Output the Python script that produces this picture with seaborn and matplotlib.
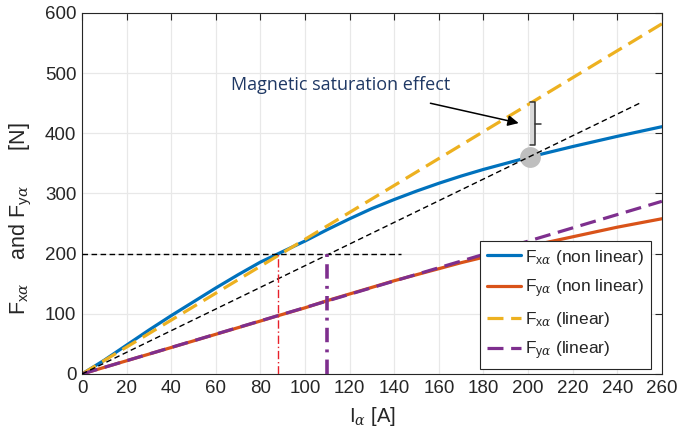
import numpy as np
import pandas as pd
import matplotlib
matplotlib.use('Agg')
import matplotlib.pyplot as plt
import seaborn as sns
from matplotlib.patches import Rectangle

# Current values [A]
I_nl = [0, 10, 20, 30, 40, 50, 60, 70, 80, 88, 100, 110, 120, 130, 140, 150, 160, 170, 180, 190,
        200, 220, 240, 260]
# non linear forces [N]
Fx_nl = [0, 23, 48, 73, 97, 120, 143, 165, 186, 200, 221, 240, 258, 275, 290, 304, 317, 329, 340, 350,
         360, 378, 395, 411]
Fy_nl = [0, 11, 22, 33, 44, 55, 66, 77, 88, 97, 110, 122, 133, 144, 155, 165, 175, 185, 194, 203,
         212, 228, 244, 258]
# linear forces [N]
I_lin = [0, 260]
Fx_lin = [0, 582]
Fy_lin = [0, 287]
# saturation reference line
I_sat = [0, 250]
F_sat = [0, 450]
F_ref = 200
I_ref_x = 88
I_ref_y = 110
I_ref_end = 143
sat_point = (200.9, 360)

blue = '#0072BD'
orange = '#D95319'
yellow = '#EDB120'
purple = '#7E2F8E'

sns.set_style('whitegrid')
plt.rcParams['font.family'] = ['Liberation Sans', 'DejaVu Sans']
plt.rcParams['mathtext.fontset'] = 'custom'
plt.rcParams['mathtext.rm'] = 'Liberation Sans'
plt.rcParams['mathtext.it'] = 'DejaVu Serif:italic'

fig = plt.figure(figsize=(6.79, 4.45), dpi=100)
ax = fig.add_axes([0.1208, 0.1596, 0.854, 0.8112])

h1 = sns.lineplot(x=I_nl, y=Fx_nl, ax=ax, color=blue, lw=2.3, label='a').lines[-1]
h2 = sns.lineplot(x=I_nl, y=Fy_nl, ax=ax, color=orange, lw=2.3, label='b').lines[-1]
h3 = sns.lineplot(x=I_lin, y=Fx_lin, ax=ax, color=yellow, lw=2.3, linestyle=(0, (5, 2.4)), label='c').lines[-1]
h4 = sns.lineplot(x=I_lin, y=Fy_lin, ax=ax, color=purple, lw=2.3, linestyle=(0, (5, 2.4)), label='d').lines[-1]

# saturation point marker
ax.plot([sat_point[0]], [sat_point[1]], 'o', ms=15, color='#bfbfbf', mec='none', zorder=4)

# reference lines
ax.plot(I_sat, F_sat, color='black', lw=1, linestyle=(0, (4, 2.5)), zorder=5)
ax.plot([0, I_ref_end], [F_ref, F_ref], color='black', lw=1, linestyle=(0, (4, 2.5)), zorder=5)
ax.plot([I_ref_x, I_ref_x], [0, F_ref], color='#e8202a', lw=1, linestyle=(0, (6, 2, 1, 2)), zorder=5)
ax.plot([I_ref_y, I_ref_y], [0, F_ref], color=purple, lw=2.6, linestyle=(0, (4, 2, 0.8, 2)), zorder=5)

# bracket + annotation
ax.add_patch(Rectangle((200.9, 381), 2.0, 71, facecolor='#d9d9d9', edgecolor='none', zorder=3))
ax.plot([201.0, 202.9, 202.9, 201.0], [452, 452, 381, 381], color='#333333', lw=1.1, zorder=6)
ax.plot([202.9, 205.6], [416, 416], color='#333333', lw=1.1, zorder=6)
ax.annotate('', xy=(197, 416), xytext=(155, 451),
            arrowprops=dict(arrowstyle='-|>', color='black', lw=1.1, mutation_scale=16))
ax.text(67, 481, 'Magnetic saturation effect', family='Open Sans', fontsize=13,
        color='#1f3864', va='center', ha='left')

ax.set_xlim(0, 260)
ax.set_ylim(0, 600)
ax.set_xticks(np.arange(0, 261, 20))
ax.set_yticks(np.arange(0, 601, 100))
ax.grid(True, color='#e8e8e8', lw=0.9)
ax.tick_params(direction='in', top=True, right=True, length=5, width=0.8,
               colors='#262626', labelsize=13.5, pad=4)
for s in ax.spines.values():
    s.set_color('#262626')
    s.set_linewidth(0.8)
    s.set_visible(True)

ax.set_xlabel(r'I$_{\alpha}$ [A]', fontsize=14.5, color='#262626', labelpad=6)
ax.set_ylabel(r'F$_{\mathrm{x}\alpha}$    and F$_{\mathrm{y}\alpha}$      [N]', fontsize=15.5,
              color='#262626')
ax.yaxis.set_label_coords(-0.082, 0.43)

labels = [r'F$_{\mathrm{x}\alpha}$ (non linear)', r'F$_{\mathrm{y}\alpha}$ (non linear)',
          r'F$_{\mathrm{x}\alpha}$ (linear)', r'F$_{\mathrm{y}\alpha}$ (linear)']
leg = ax.legend([h1, h2, h3, h4], labels, loc='lower right', bbox_to_anchor=(0.981, 0.014),
                borderaxespad=0, fontsize=12.5, fancybox=False, framealpha=1,
                edgecolor='#262626', handlelength=2.0, handletextpad=0.2,
                labelspacing=0.6, borderpad=0.4)
leg.get_frame().set_linewidth(0.8)

fig.savefig('out.png', dpi=100)
